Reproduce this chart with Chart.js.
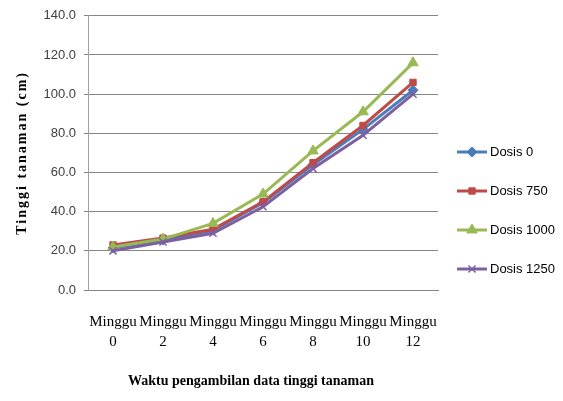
<!DOCTYPE html>
<html>
<head>
<meta charset="utf-8">
<script src="https://cdn.jsdelivr.net/npm/chart.js@4.4.1/dist/chart.umd.min.js"></script>
<style>
  html, body { margin: 0; padding: 0; background: #ffffff; }
  #wrap { width: 563px; height: 401px; position: relative; }
</style>
</head>
<body>
<div id="wrap"><canvas id="c" width="563" height="401"></canvas></div>
<script>
// Measurement weeks (x categories)
const weeks = ["0", "2", "4", "6", "8", "10", "12"];
const weekPrefix = "Minggu";

// Plant height (cm) per dose treatment
const dosis0    = [21.5, 25.5, 30.5, 44.5, 64, 82, 102];
const dosis750  = [23, 26.5, 31, 45, 65, 84, 106];
const dosis1000 = [22, 26, 34, 49, 71, 91, 116];
const dosis1250 = [20, 24.5, 29, 42.5, 62, 79, 100];

const seriesNames = ["Dosis 0", "Dosis 750", "Dosis 1000", "Dosis 1250"];

// Y axis range and tick spacing
const yMin = 0, yMax = 140, yStep = 20;

const yTitle = "Tinggi tanaman (cm)";
const xTitle = "Waktu pengambilan data tinggi tanaman";

const colors = ["#4A7EBB", "#BE4B48", "#98B954", "#7D60A0"];
const markers = ["rectRot", "rect", "triangle", "crossRot"];
const markerSize = [5, 4.5, 6, 5];

const serifFont = "'Liberation Serif', 'Times New Roman', serif";
const sansFont = "'Liberation Sans', Arial, sans-serif";

const values = [dosis0, dosis750, dosis1000, dosis1250];

const datasets = values.map((v, i) => ({
  label: seriesNames[i],
  data: v,
  borderColor: colors[i],
  backgroundColor: colors[i],
  pointBackgroundColor: colors[i],
  pointBorderColor: colors[i],
  pointStyle: markers[i],
  pointRadius: markerSize[i],
  pointHoverRadius: markerSize[i],
  pointBorderWidth: markers[i] === "crossRot" ? 1.5 : 1,
  borderWidth: 3,
  tension: 0,
  fill: false,
  order: values.length - 1 - i
}));

// Draws the rotated y title, the x title and a line+marker legend on the right
const decorations = {
  id: "decorations",
  afterDraw(chart) {
    const ctx = chart.ctx;
    const area = chart.chartArea;
    ctx.save();

    // y axis title
    ctx.fillStyle = "#000000";
    ctx.font = "bold 14px " + serifFont;
    ctx.textAlign = "center";
    ctx.textBaseline = "middle";
    if ("letterSpacing" in ctx) ctx.letterSpacing = "2px";
    ctx.translate(22, (area.top + area.bottom) / 2);
    ctx.rotate(-Math.PI / 2);
    ctx.fillText(yTitle, 0, 0);
    ctx.setTransform(1, 0, 0, 1, 0, 0);
    if ("letterSpacing" in ctx) ctx.letterSpacing = "0px";

    // x axis title
    ctx.font = "bold 14px " + serifFont;
    ctx.fillText(xTitle, 251, 381);

    // legend
    const lx = 457, lw = 30, top = 152, gap = 39;
    ctx.font = "13px " + sansFont;
    ctx.textAlign = "left";
    chart.data.datasets.forEach((ds, i) => {
      const y = top + i * gap;
      ctx.strokeStyle = ds.borderColor;
      ctx.lineWidth = 3;
      ctx.beginPath();
      ctx.moveTo(lx, y);
      ctx.lineTo(lx + lw, y);
      ctx.stroke();
      ctx.fillStyle = ds.backgroundColor;
      ctx.strokeStyle = ds.borderColor;
      ctx.lineWidth = ds.pointBorderWidth;
      Chart.helpers.drawPoint(ctx, {
        pointStyle: ds.pointStyle,
        radius: ds.pointRadius,
        rotation: 0,
        borderWidth: ds.pointBorderWidth
      }, lx + lw / 2, y);
      ctx.fillStyle = "#000000";
      ctx.fillText(ds.label, lx + lw + 3, y);
    });
    ctx.restore();
  }
};

new Chart(document.getElementById("c"), {
  type: "line",
  data: {
    labels: weeks.map(w => [weekPrefix, w]),
    datasets: datasets
  },
  options: {
    responsive: false,
    animation: false,
    devicePixelRatio: 1,
    layout: { padding: { top: 15, right: 125, left: 0, bottom: 0 } },
    plugins: {
      legend: { display: false },
      tooltip: { enabled: false },
      title: { display: false }
    },
    scales: {
      x: {
        type: "category",
        offset: true,
        grid: { display: false, drawTicks: false },
        border: { display: true, color: "#868686", width: 1 },
        ticks: {
          color: "#000000",
          padding: 22,
          maxRotation: 0,
          autoSkip: false,
          font: { family: serifFont, size: 15, lineHeight: 1.33 }
        },
        afterFit(scale) { scale.height = 111; }
      },
      y: {
        min: yMin,
        max: yMax,
        grid: { color: "#868686", lineWidth: 1, drawTicks: true, tickLength: 4 },
        border: { display: true, color: "#A0A0A0", width: 1 },
        ticks: {
          stepSize: yStep,
          color: "#404040",
          padding: 8,
          font: { family: sansFont, size: 13 },
          callback: v => Number(v).toFixed(1)
        },
        afterFit(scale) { scale.width = 88; }
      }
    }
  },
  plugins: [decorations]
});
</script>
</body>
</html>
